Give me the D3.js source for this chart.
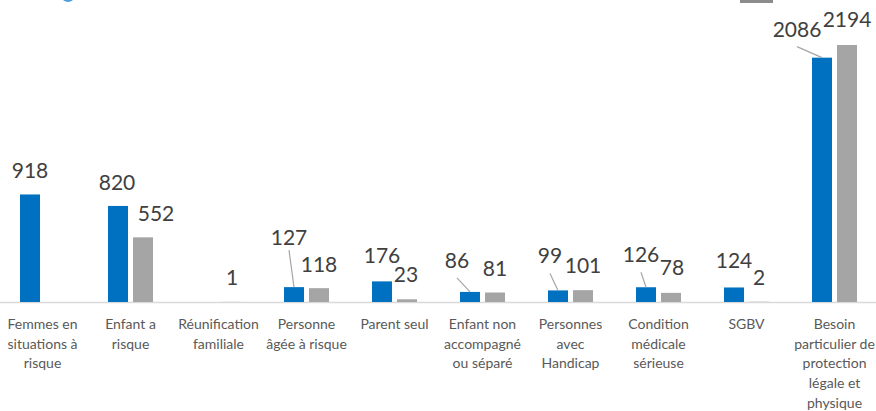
<!DOCTYPE html>
<html>
<head>
<meta charset="utf-8">
<script src="https://cdn.jsdelivr.net/npm/d3@7"></script>
<style>
  body { margin: 0; background: #fff; }
  svg { display: block; font-family: Lato, "Open Sans", sans-serif; }
</style>
</head>
<body>
<div id="chart"></div>
<script>
// catégories (libellés sur plusieurs lignes, comme dans Excel)
const categories = [
    "Femmes en|situations à|risque",
    "Enfant a|risque",
    "Réunification|familiale",
    "Personne|âgée à risque",
    "Parent seul",
    "Enfant non|accompagné|ou séparé",
    "Personnes|avec|Handicap",
    "Condition|médicale|sérieuse",
    "SGBV",
    "Besoin|particulier de|protection|légale et|physique"
];
const seriesBlue = [918, 820, null, 127, 176, 86, 99, 126, 124, 2086];
const seriesGrey = [null, 552, 1, 118, 23, 81, 101, 78, 2, 2194];

// décalage des étiquettes [dx, dy] par rapport au haut de la barre
const blueLabelOffsets = [[0, -16], [-1, -16], null, [-5, -42], [0, -18], [-13, -24], [-8, -27], [-5, -25], [0, -19], [-25, -21]];
const greyLabelOffsets = [null, [13, -16], [1, -17], [0, -16], [-1, -17], [0, -17], [0, -17], [1, -18], [0, -17], [0, -18]];
// étiquettes reliées à la barre par un trait
const blueLeader = [false, false, false, true, false, true, true, true, false, true];

const W = 876, H = 411;
const baseY = 302;

const svg = d3.select("#chart").append("svg")
    .attr("width", W)
    .attr("height", H);

const x = d3.scaleBand()
    .domain(categories)
    .range([-1.5, 878.5])
    .padding(0);

const x1 = d3.scaleBand()
    .domain(["blue", "grey"])
    .range([-22.5, 22.5])
    .paddingInner(0.2);

const y = d3.scaleLinear()
    .domain([0, 2194])
    .range([baseY, 45]);

const colors = {blue: "#0070C0", grey: "#A5A5A5"};

// petits restes de formes en haut (coupées)
svg.append("ellipse")
    .attr("cx", 68).attr("cy", -3)
    .attr("rx", 6).attr("ry", 5)
    .attr("fill", "#4a9fe0");
svg.append("rect")
    .attr("x", 740).attr("y", -6)
    .attr("width", 33).attr("height", 9)
    .attr("fill", "#8c8c8c");

// axe horizontal
const xAxis = svg.append("g")
    .attr("transform", `translate(0,${baseY})`)
    .call(d3.axisBottom(x).tickSize(0).tickSizeOuter(0));

xAxis.select(".domain")
    .attr("stroke", "#D9D9D9")
    .attr("stroke-width", 1.5);

xAxis.selectAll("text").each(function(d) {
    const t = d3.select(this);
    t.text(null)
        .attr("y", 0)
        .attr("dy", null)
        .attr("fill", "#595959")
        .style("font-size", "14px")
        .style("font-family", "Lato, 'Open Sans', sans-serif");
    d.split("|").forEach((line, i) => {
        t.append("tspan")
            .attr("x", 0)
            .attr("y", 27 + i * 19.7)
            .text(line);
    });
});

const rows = categories.map((c, i) => ({cat: c, i}));

const series = [
    {key: "blue", values: seriesBlue, offsets: blueLabelOffsets},
    {key: "grey", values: seriesGrey, offsets: greyLabelOffsets}
];

series.forEach(s => {
    const pts = rows.filter(d => s.values[d.i] !== null);
    const cx = d => x(d.cat) + x.bandwidth() / 2 + x1(s.key) + x1.bandwidth() / 2;

    svg.selectAll(".bar-" + s.key)
        .data(pts)
        .enter().append("rect")
        .attr("class", "bar-" + s.key)
        .attr("x", d => x(d.cat) + x.bandwidth() / 2 + x1(s.key))
        .attr("y", d => y(s.values[d.i]))
        .attr("width", x1.bandwidth())
        .attr("height", d => baseY - y(s.values[d.i]))
        .attr("fill", colors[s.key]);

    // traits de rappel
    if (s.key === "blue") {
        svg.selectAll(".leader")
            .data(pts.filter(d => blueLeader[d.i]))
            .enter().append("line")
            .attr("class", "leader")
            .attr("x1", d => cx(d) + s.offsets[d.i][0])
            .attr("y1", d => y(s.values[d.i]) + s.offsets[d.i][1] + (d.i === 3 ? 5 : 10))
            .attr("x2", d => cx(d))
            .attr("y2", d => y(s.values[d.i]))
            .attr("stroke", "#A6A6A6")
            .attr("stroke-width", 1.2);
    }

    svg.selectAll(".label-" + s.key)
        .data(pts)
        .enter().append("text")
        .attr("class", "label-" + s.key)
        .attr("x", d => cx(d) + s.offsets[d.i][0])
        .attr("y", d => y(s.values[d.i]) + s.offsets[d.i][1])
        .attr("text-anchor", "middle")
        .attr("fill", "#404040")
        .style("font-size", "21px")
        .text(d => s.values[d.i]);
});
</script>
</body>
</html>
